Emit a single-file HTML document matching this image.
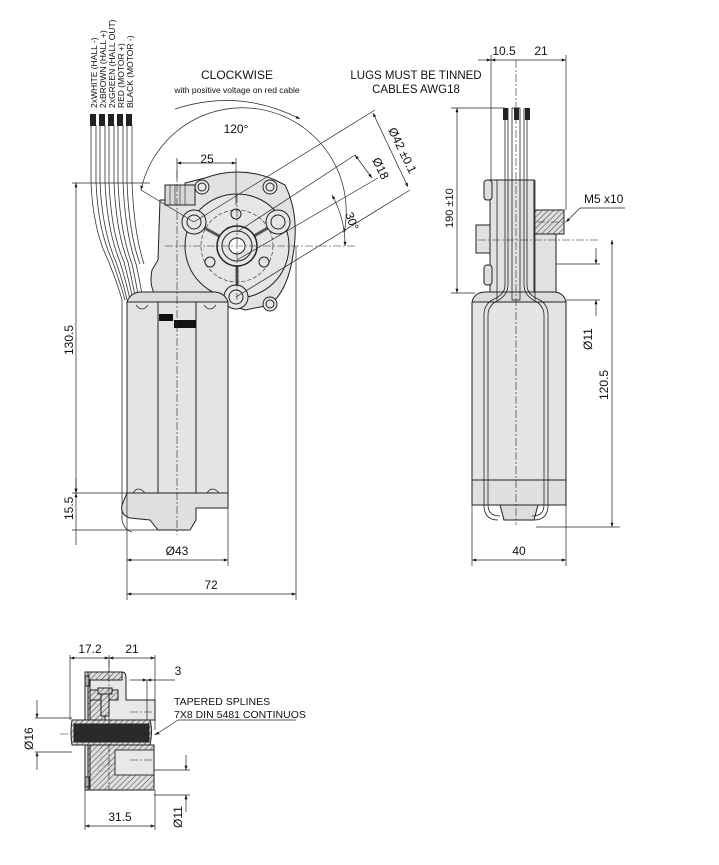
<!DOCTYPE html>
<html><head><meta charset="utf-8"><style>
html,body{margin:0;padding:0;background:#fff}
svg{display:block}
text{font-family:"Liberation Sans",sans-serif;fill:#111}
</style></head><body>
<svg width="719" height="865" viewBox="0 0 719 865" xmlns="http://www.w3.org/2000/svg">
<defs>
<marker id="a" viewBox="0 0 10 10" refX="10" refY="5" markerWidth="9" markerHeight="6" orient="auto-start-reverse"><path d="M0,1.5 L10,5 L0,8.5z" fill="#111"/></marker>
<pattern id="h" width="4" height="4" patternUnits="userSpaceOnUse" patternTransform="rotate(45)"><rect width="4" height="4" fill="#ddd"/><line x1="0" y1="0" x2="0" y2="4" stroke="#333" stroke-width="1"/></pattern>
</defs>
<g stroke="#222" stroke-width="1" fill="none">
<!-- FRONT VIEW -->
<!-- wires -->
<g stroke="#333" stroke-width="0.8">
<path d="M91,125 V182 Q93,230 108,260 Q118,285 122,300 V520 Q124,530 132,532" />
<path d="M96,125 V182 Q98,230 112,260 Q121,285 125,300"/>
<path d="M100,125 V182 Q102,230 116,262 Q124,285 127,300"/>
<path d="M105,125 V182 Q107,230 120,262 Q127,285 130,300"/>
<path d="M109,125 V182 Q111,232 124,262 Q130,285 133,300"/>
<path d="M114,125 V182 Q116,232 128,262 Q133,285 136,300"/>
<path d="M118,125 V182 Q120,232 132,264 Q136,282 138,295"/>
<path d="M123,125 V182 Q125,232 136,264 Q140,282 142,295"/>
<path d="M127,125 V182 Q129,234 140,264"/>
<path d="M132,125 V182 Q134,234 144,264"/>
</g>
<g fill="#222" stroke="none">
<rect x="90" y="114" width="6" height="12"/><rect x="99" y="114" width="6" height="12"/><rect x="108" y="114" width="6" height="12"/><rect x="117" y="114" width="6" height="12"/><rect x="126" y="114" width="6" height="12"/>
</g>
<!-- gearbox housing -->
<path d="M160,200 H185 V183 L205,178 Q240,165 275,180 L285,185 Q300,215 293,255 Q288,290 270,305 L245,310 L215,300 L160,300 Q148,290 152,270 L158,260 Z" fill="#e2e2e2"/>
<path d="M165,185 h30 v20 h-30z" fill="#d8d8d8"/>
<path d="M170,185 v20 M175,185 v20 M180,185 v20 M185,185 v20" stroke-width="0.6"/>
<circle cx="237" cy="246" r="52" fill="#e6e6e6"/>
<circle cx="237" cy="246" r="36" stroke-dasharray="4,2" stroke-width="0.6"/>
<circle cx="202" cy="187" r="7" fill="#e6e6e6"/><circle cx="202" cy="187" r="4"/>
<circle cx="270" cy="187" r="7" fill="#e6e6e6"/><circle cx="270" cy="187" r="4"/>
<circle cx="270" cy="304" r="7" fill="#e6e6e6"/><circle cx="270" cy="304" r="4"/>
<path d="M237,246 L194,222 M237,246 L278,222 M237,246 L237,296" stroke-width="3" stroke="#555"/>
<circle cx="194" cy="222" r="12" fill="#e6e6e6"/><circle cx="194" cy="222" r="7"/>
<circle cx="278" cy="222" r="12" fill="#e6e6e6"/><circle cx="278" cy="222" r="7"/>
<circle cx="236" cy="297" r="12" fill="#e6e6e6"/><circle cx="236" cy="297" r="7"/>
<circle cx="236" cy="214" r="5"/><circle cx="210" cy="262" r="5"/><circle cx="264" cy="262" r="5"/>
<circle cx="237" cy="246" r="20" fill="#e6e6e6" stroke-width="1.5"/>
<circle cx="237" cy="246" r="15"/>
<circle cx="237" cy="246" r="8" fill="#fff"/>
<!-- motor body -->
<path d="M127,302 Q130,293 140,292 H215 Q225,293 228,302 Z" fill="#dcdcdc"/>
<rect x="127" y="302" width="101" height="191" fill="#e4e4e4"/>
<path d="M158,302 V493 M196,302 V493" />
<rect x="159" y="314" width="14" height="7" fill="#111" stroke="none"/>
<rect x="174" y="320" width="22" height="8" fill="#111" stroke="none"/>
<path d="M127,493 H228 V508 H196 V520 L190,530 H158 L150,520 L130,518 Q120,515 122,505Z" fill="#e0e0e0"/>
<path d="M136,305 q6,8 12,0 M204,305 q6,8 12,0 M133,493 q5,-8 12,0 M207,493 q5,-8 12,0" stroke-width="0.7"/>
<!-- center lines -->
<g stroke-dasharray="8,2,2,2" stroke-width="0.6">
<line x1="177" y1="170" x2="177" y2="535"/>
<line x1="165" y1="246" x2="355" y2="246"/>
<line x1="237" y1="195" x2="237" y2="300"/>
</g>
<!-- dims front -->
<g stroke-width="0.7">
<line x1="72" y1="183" x2="150" y2="183"/>
<line x1="72" y1="493" x2="127" y2="493"/>
<line x1="72" y1="530" x2="160" y2="530"/>
<line x1="76" y1="183" x2="76" y2="493" marker-start="url(#a)" marker-end="url(#a)"/>
<line x1="76" y1="493" x2="76" y2="545" marker-start="url(#a)"/>
<line x1="76" y1="478" x2="76" y2="493" marker-end="url(#a)"/>
<line x1="127" y1="493" x2="127" y2="600"/>
<line x1="228" y1="493" x2="228" y2="566"/>
<line x1="296" y1="246" x2="296" y2="600"/>
<line x1="127" y1="560" x2="228" y2="560" marker-start="url(#a)" marker-end="url(#a)"/>
<line x1="127" y1="594" x2="296" y2="594" marker-start="url(#a)" marker-end="url(#a)"/>
<line x1="177" y1="158" x2="177" y2="180"/><line x1="236" y1="158" x2="236" y2="205"/>
<line x1="177" y1="163" x2="236" y2="163" marker-start="url(#a)" marker-end="url(#a)"/>
<path d="M141,190 A103,103 0 0 1 344,233" marker-start="url(#a)" marker-end="url(#a)"/>
<path d="M332,195 A103,103 0 0 1 345,246" marker-start="url(#a)" marker-end="url(#a)"/>
<path d="M175,109 Q240,88 300,119" marker-end="url(#a)"/>
<line x1="141" y1="190" x2="194" y2="222"/>
<line x1="194" y1="222" x2="375" y2="110"/>
<line x1="236" y1="297" x2="410" y2="190"/>
<line x1="237" y1="232" x2="355" y2="155"/>
<line x1="237" y1="260" x2="378" y2="178"/>
<line x1="373" y1="113" x2="408" y2="187" marker-start="url(#a)" marker-end="url(#a)"/>
<line x1="355" y1="155" x2="372" y2="178" marker-start="url(#a)" marker-end="url(#a)"/>
</g>
<!-- SIDE VIEW -->
<rect x="490" y="180" width="44" height="120" fill="#e2e2e2"/>
<rect x="484" y="180" width="8" height="20" rx="3" fill="#ddd"/>
<rect x="484" y="265" width="8" height="20" rx="3" fill="#ddd"/>
<rect x="476" y="225" width="14" height="28" fill="#e2e2e2"/>
<rect x="534" y="210" width="30" height="24" fill="url(#h)"/>
<rect x="534" y="234" width="22" height="60" fill="#e2e2e2"/>
<path d="M472,302 Q474,293 484,292 H555 Q564,293 566,302Z" fill="#dcdcdc"/>
<rect x="472" y="302" width="94" height="191" fill="#e4e4e4"/>
<rect x="472" y="480" width="94" height="25" fill="#e0e0e0"/>
<path d="M500,505 H538 L534,520 H504Z" fill="#ddd"/>
<g stroke-width="0.8">
<path d="M505,108 V285 Q505,295 492,300 Q484,305 484,315 V505 Q484,520 498,520"/>
<path d="M508,108 V285 Q508,296 495,302 Q488,307 488,315 V505 Q488,516 500,516"/>
<path d="M527,108 V285 Q527,295 540,300 Q548,305 548,315 V505 Q548,520 534,520"/>
<path d="M524,108 V285 Q524,296 537,302 Q544,307 544,315 V505 Q544,516 532,516"/>
<rect x="512" y="108" width="8" height="192"/>
<line x1="497" y1="180" x2="497" y2="300"/><line x1="535" y1="180" x2="535" y2="300"/>
</g>
<g fill="#222" stroke="none"><rect x="503" y="108" width="5" height="12"/><rect x="514" y="108" width="5" height="12"/><rect x="525" y="108" width="5" height="12"/></g>
<g stroke-dasharray="8,2,2,2" stroke-width="0.6"><line x1="516" y1="60" x2="516" y2="525"/><line x1="478" y1="240" x2="600" y2="240"/><line x1="537" y1="222" x2="566" y2="222"/></g>
<g stroke-width="0.7">
<line x1="491" y1="55" x2="491" y2="180"/><line x1="566" y1="55" x2="566" y2="210"/>
<line x1="478" y1="60" x2="491" y2="60" marker-end="url(#a)"/>
<line x1="491" y1="60" x2="566" y2="60" marker-start="url(#a)" marker-end="url(#a)"/>
<line x1="451" y1="108" x2="505" y2="108"/><line x1="451" y1="293" x2="475" y2="293"/>
<line x1="457" y1="108" x2="457" y2="293" marker-start="url(#a)" marker-end="url(#a)"/>
<line x1="566" y1="222" x2="580" y2="208" marker-start="url(#a)"/><line x1="580" y1="208" x2="625" y2="208"/>
<line x1="556" y1="264" x2="600" y2="264"/><line x1="566" y1="300" x2="600" y2="300"/>
<line x1="596" y1="248" x2="596" y2="264" marker-end="url(#a)"/><line x1="596" y1="316" x2="596" y2="300" marker-end="url(#a)"/>
<line x1="536" y1="527" x2="620" y2="527"/>
<line x1="612" y1="240" x2="612" y2="527" marker-start="url(#a)" marker-end="url(#a)"/>
<line x1="472" y1="500" x2="472" y2="566"/><line x1="566" y1="500" x2="566" y2="566"/>
<line x1="472" y1="560" x2="566" y2="560" marker-start="url(#a)" marker-end="url(#a)"/>
</g>
<!-- BOTTOM SECTION -->
<path d="M85,672 H122 Q126,672 126,678 V700 H155 V720 H126 V745 H154 V790 H85 Z" fill="#e8e8e8"/>
<path d="M88,672 H122 V680 H90 V790 H88 Z" fill="url(#h)"/>
<path d="M90,690 H118 V700 H90z M90,700 H105 V740 H90z" fill="url(#h)"/>
<rect x="98" y="688" width="14" height="6" fill="url(#h)"/>
<rect x="98" y="765" width="14" height="6" fill="url(#h)"/>
<path d="M101,694 h8 v22 h-8z M101,743 h8 v22 h-8z" fill="url(#h)"/>
<path d="M90,745 H154 V750 H115 V775 H154 V790 H90Z" fill="url(#h)" opacity="0.9"/>
<rect x="85" y="676" width="4" height="10" fill="#aaa"/><rect x="85" y="777" width="4" height="10" fill="#aaa"/>
<path d="M72,720 H150 Q153,730 150,745 H72 Q70,732 72,720Z" fill="url(#h)"/>
<rect x="74" y="724" width="75" height="18" fill="#2a2a2a"/>
<g stroke-dasharray="8,2,2,2" stroke-width="0.6"><line x1="60" y1="734" x2="160" y2="734"/><line x1="109" y1="660" x2="109" y2="790"/><line x1="130" y1="712" x2="152" y2="712"/><line x1="130" y1="760" x2="152" y2="760"/></g>
<g stroke-width="0.7">
<line x1="70" y1="655" x2="70" y2="720"/><line x1="155" y1="655" x2="155" y2="730"/><line x1="109" y1="655" x2="109" y2="672"/>
<line x1="70" y1="658" x2="109" y2="658" marker-start="url(#a)" marker-end="url(#a)"/>
<line x1="109" y1="658" x2="155" y2="658" marker-start="url(#a)" marker-end="url(#a)"/>
<line x1="130" y1="680" x2="147" y2="680" marker-end="url(#a)"/><line x1="147" y1="680" x2="175" y2="680" marker-start="url(#a)"/>
<line x1="147" y1="680" x2="147" y2="720"/>
<line x1="35" y1="718" x2="72" y2="718"/><line x1="35" y1="752" x2="72" y2="752"/>
<line x1="37" y1="700" x2="37" y2="718" marker-end="url(#a)"/><line x1="37" y1="770" x2="37" y2="752" marker-end="url(#a)"/>
<line x1="155" y1="735" x2="178" y2="720" marker-start="url(#a)"/><line x1="178" y1="720" x2="296" y2="720"/>
<line x1="154" y1="770" x2="190" y2="770"/><line x1="154" y1="795" x2="190" y2="795"/>
<line x1="186" y1="755" x2="186" y2="770" marker-end="url(#a)"/><line x1="186" y1="812" x2="186" y2="795" marker-end="url(#a)"/>
<line x1="85" y1="790" x2="85" y2="830"/><line x1="155" y1="790" x2="155" y2="830"/>
<line x1="85" y1="826" x2="155" y2="826" marker-start="url(#a)" marker-end="url(#a)"/>
</g>
</g>
<!-- TEXT -->
<g font-size="8.5">
<text transform="translate(97,108) rotate(-90)">2xWHITE (HALL -)</text>
<text transform="translate(106,108) rotate(-90)">2xBROWN (HALL +)</text>
<text transform="translate(115,108) rotate(-90)">2xGREEN (HALL OUT)</text>
<text transform="translate(124,108) rotate(-90)">RED (MOTOR +)</text>
<text transform="translate(133,108) rotate(-90)">BLACK (MOTOR -)</text>
</g>
<text x="237" y="79" font-size="12" text-anchor="middle">CLOCKWISE</text>
<text x="237" y="93" font-size="8.5" text-anchor="middle">with positive voltage on red cable</text>
<text x="236" y="133" font-size="12" text-anchor="middle">120°</text>
<text x="207" y="163" font-size="12" text-anchor="middle">25</text>
<text transform="translate(345,214) rotate(70)" font-size="12">30°</text>
<text transform="translate(388,130) rotate(64)" font-size="12">Ø42 ±0.1</text>
<text transform="translate(372,160) rotate(64)" font-size="12">Ø18</text>
<text transform="translate(73,355) rotate(-90)" font-size="12">130.5</text>
<text transform="translate(73,520) rotate(-90)" font-size="12">15.5</text>
<text x="177" y="555" font-size="12" text-anchor="middle">Ø43</text>
<text x="211" y="589" font-size="12" text-anchor="middle">72</text>
<text x="416" y="79" font-size="11.5" text-anchor="middle">LUGS MUST BE TINNED</text>
<text x="416" y="93" font-size="11.5" text-anchor="middle">CABLES AWG18</text>
<text x="504" y="55" font-size="12" text-anchor="middle">10.5</text>
<text x="541" y="55" font-size="12" text-anchor="middle">21</text>
<text transform="translate(453,228) rotate(-90)" font-size="11">190 ±10</text>
<text x="584" y="203" font-size="12">M5 x10</text>
<text transform="translate(592,350) rotate(-90)" font-size="12">Ø11</text>
<text transform="translate(608,400) rotate(-90)" font-size="12">120.5</text>
<text x="519" y="555" font-size="12" text-anchor="middle">40</text>
<text x="90" y="653" font-size="12" text-anchor="middle">17.2</text>
<text x="132" y="653" font-size="12" text-anchor="middle">21</text>
<text x="178" y="675" font-size="12" text-anchor="middle">3</text>
<text x="174" y="705" font-size="10.5">TAPERED SPLINES</text>
<text x="174" y="718" font-size="10.5">7X8 DIN 5481 CONTINUOS</text>
<text transform="translate(33,750) rotate(-90)" font-size="12">Ø16</text>
<text x="120" y="821" font-size="12" text-anchor="middle">31.5</text>
<text transform="translate(182,828) rotate(-90)" font-size="12">Ø11</text>
</svg>
</body></html>
